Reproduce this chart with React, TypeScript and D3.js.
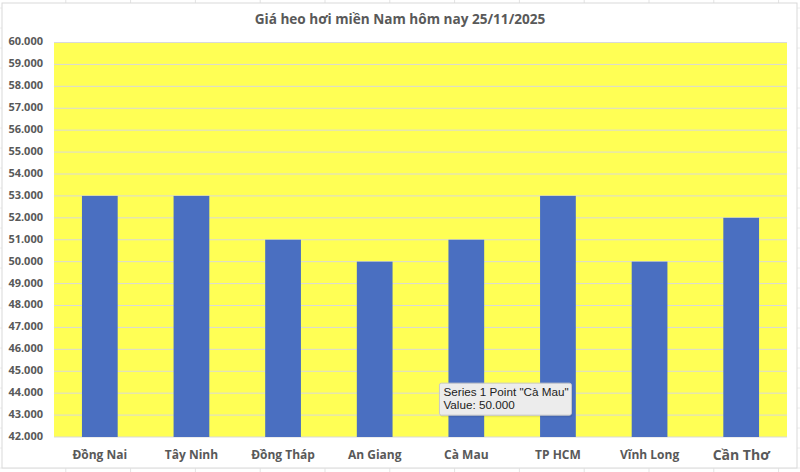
import * as d3 from 'd3'
import { FC } from 'react'

const WIDTH = 800
const HEIGHT = 472
const MARGIN = { top: 42.5, right: 13, bottom: 35, left: 54 }

const CATEGORIES = ['Đồng Nai', 'Tây Ninh', 'Đồng Tháp', 'An Giang', 'Cà Mau', 'TP HCM', 'Vĩnh Long', 'Cần Thơ']
const VALUES = [53000, 53000, 51000, 50000, 51000, 53000, 50000, 52000]
const Y_TICKS = d3.range(42000, 60001, 1000)
const TITLE = 'Giá heo hơi miền Nam hôm nay 25/11/2025'
const TOOLTIP_LINES = ['Series 1 Point "Cà Mau"', 'Value: 50.000']

const FONT = '"Open Sans", "Liberation Sans", sans-serif'
const TEXT_COLOR = '#595959'

const fmt = (v: number) => d3.format(',')(v).replace(/,/g, '.')

const App: FC = () => {
  const boundsWidth = WIDTH - MARGIN.left - MARGIN.right
  const boundsHeight = HEIGHT - MARGIN.top - MARGIN.bottom

  const xScale = d3.scaleBand().domain(CATEGORIES).range([0, boundsWidth]).paddingInner(0.61).paddingOuter(0.305)
  const yScale = d3.scaleLinear().domain([42000, 60000]).range([boundsHeight, 0])

  // faint spreadsheet cell lines behind the chart box
  const cellX = d3.range(1, 13).map((i) => i * 64.8 + 1)
  const cellY = d3.range(0, 25).map((i) => i * 20 + 8)

  const tipX = MARGIN.left + (xScale('Cà Mau') as number) - 9
  const tipY = MARGIN.top + yScale(44000) - 10

  return (
    <svg width={WIDTH} height={HEIGHT} style={{ position: 'absolute', left: 0, top: 0, background: '#fff' }}>
      {cellX.map((x, i) => (
        <line key={'cx' + i} x1={x} x2={x} y1={0} y2={HEIGHT} stroke='#e3e3e3' />
      ))}
      {cellY.map((y, i) => (
        <line key={'cy' + i} x1={0} x2={WIDTH} y1={y} y2={y} stroke='#ececec' />
      ))}
      <rect x={2} y={3} width={795} height={465} fill='#fff' stroke='#d9d9d9' />

      <text x={WIDTH / 2} y={20} textAnchor='middle' dominantBaseline='middle' fontFamily={FONT} fontWeight='bold' fontSize={13.6} fill={TEXT_COLOR}>
        {TITLE}
      </text>

      <g transform={`translate(${MARGIN.left},${MARGIN.top})`}>
        <rect x={0} y={0} width={boundsWidth} height={boundsHeight} fill='#ffff55' />
        {Y_TICKS.map((t) => (
          <line key={t} x1={0} x2={boundsWidth} y1={yScale(t)} y2={yScale(t)} stroke='#d9d9d9' strokeWidth={1} />
        ))}
        {Y_TICKS.map((t) => (
          <text key={'l' + t} x={-11} y={yScale(t)} textAnchor='end' dominantBaseline='middle' fontFamily={FONT} fontWeight='bold' fontSize={11} fill={TEXT_COLOR}>
            {fmt(t)}
          </text>
        ))}
        {CATEGORIES.map((c, i) => (
          <rect key={c} x={xScale(c)} y={yScale(VALUES[i])} width={xScale.bandwidth()} height={boundsHeight - yScale(VALUES[i])} fill='#4a6fc1' />
        ))}
        {CATEGORIES.map((c) => (
          <text
            key={'x' + c}
            x={(xScale(c) as number) + xScale.bandwidth() / 2}
            y={boundsHeight + 19}
            textAnchor='middle'
            dominantBaseline='middle'
            fontFamily={FONT}
            fontWeight='bold'
            fontSize={c === 'Cần Thơ' ? 14 : 12}
            fill={TEXT_COLOR}
          >
            {c}
          </text>
        ))}
      </g>

      <g transform={`translate(${tipX},${tipY})`}>
        <rect x={1} y={2} width={132} height={32} fill='#000' opacity={0.08} rx={2} />
        <rect x={0} y={0} width={132} height={32} fill='#ececec' stroke='#c8c8c8' rx={2} />
        {TOOLTIP_LINES.map((l, i) => (
          <text key={l} x={4} y={10 + i * 13} dominantBaseline='middle' fontFamily='"Liberation Sans", Arial, sans-serif' fontSize={11.7} fill='#222'>
            {l}
          </text>
        ))}
      </g>
    </svg>
  )
}

export default App
